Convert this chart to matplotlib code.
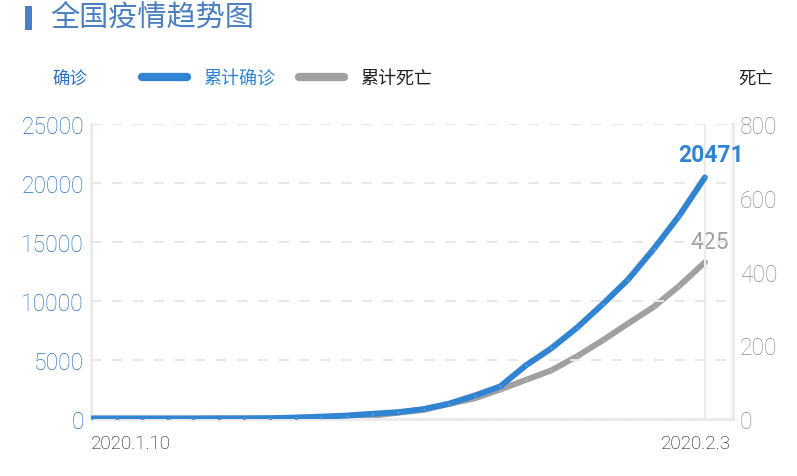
import matplotlib
matplotlib.use("Agg")
import matplotlib.pyplot as plt
import matplotlib.transforms as mtransforms
from matplotlib.lines import Line2D
from matplotlib.patches import Rectangle

# daily national totals, 2020.1.10 - 2020.2.3
dates = ["2020.1.10", "2020.1.11", "2020.1.12", "2020.1.13", "2020.1.14",
         "2020.1.15", "2020.1.16", "2020.1.17", "2020.1.18", "2020.1.19",
         "2020.1.20", "2020.1.21", "2020.1.22", "2020.1.23", "2020.1.24",
         "2020.1.25", "2020.1.26", "2020.1.27", "2020.1.28", "2020.1.29",
         "2020.1.30", "2020.1.31", "2020.2.1", "2020.2.2", "2020.2.3"]
confirmed = [41, 41, 41, 41, 41, 41, 45, 62, 121, 198, 291, 440, 574, 835,
             1297, 1985, 2761, 4537, 5997, 7736, 9720, 11821, 14411, 17238, 20471]
deaths = [1, 1, 1, 1, 1, 2, 2, 2, 3, 3, 6, 9, 17, 25, 41, 56, 80, 106, 132,
          170, 213, 259, 304, 361, 425]

left_ticks = [0, 5000, 10000, 15000, 20000, 25000]
right_ticks = [0, 200, 400, 600, 800]

BLUE = "#3184d1"
GRAY = "#a0a0a0"
TICK_BLUE = "#2a70c2"
AXIS = "#ebebeb"
CJK = ["Noto Sans CJK SC", "DejaVu Sans"]
NUM = ["Roboto", "DejaVu Sans"]

x = list(range(len(dates)))

fig = plt.figure(figsize=(7.97, 4.77), dpi=100)
ax = fig.add_axes([91 / 797, 57 / 477, 642 / 797, 295 / 477])
ax2 = ax.twinx()

ax.plot(x, confirmed, color=BLUE, lw=4.3, solid_capstyle="round",
        solid_joinstyle="round", marker="o", ms=2.2, mfc="#5c9ddb",
        mec=BLUE, mew=0.4, zorder=3)
ax2.plot(x, deaths, color=GRAY, lw=4.3, solid_capstyle="round",
         solid_joinstyle="round", marker="o", ms=2.2, mfc="#b4b4b4",
         mec=GRAY, mew=0.4, zorder=2)

ax.set_xlim(0, 25.1)
ax.set_ylim(0, 25000)
ax2.set_ylim(0, 800)
ax.set_yticks(left_ticks)
ax2.set_yticks(right_ticks)
ax.set_xticks([0, len(dates) - 1])
ax.set_xticklabels([dates[0], dates[-1]])

for a in (ax, ax2):
    for side in ("left", "right", "bottom"):
        a.spines[side].set_color(AXIS)
        a.spines[side].set_linewidth(2.2)
    a.spines["top"].set_visible(False)
ax.set_zorder(ax2.get_zorder() + 1)
ax.patch.set_visible(False)

ax.tick_params(axis="y", length=0, pad=5, labelcolor=TICK_BLUE, labelsize=16.5)
ax.tick_params(axis="x", length=0, pad=11, labelcolor="#111111", labelsize=13.5)
ax2.tick_params(axis="y", length=0, pad=5, labelcolor="#8f8f8f", labelsize=16.5)
for lab in ax.get_yticklabels() + ax2.get_yticklabels() + ax.get_xticklabels():
    lab.set_family(NUM)
    lab.set_fontweight("light")
xl = ax.get_xticklabels()
xl[0].set_ha("left")
xl[1].set_ha("center")
xl[1].set_transform(xl[1].get_transform() +
                    mtransforms.ScaledTranslation(-9 / 100, 0, fig.dpi_scale_trans))

ax.yaxis.grid(True, color="#e8e8e8", lw=1.5, ls=(0, (5, 5)))
ax.xaxis.grid(True, color=AXIS, lw=1.5, ls="-")
ax.set_axisbelow(True)

# end labels
ax.annotate(f"{confirmed[-1]}", xy=(x[-1], confirmed[-1]), xytext=(6, 11),
            textcoords="offset pixels", ha="center", va="bottom",
            color=BLUE, fontsize=16.5, fontweight="bold", family=NUM)
ax2.annotate(f"{deaths[-1]}", xy=(x[-1], deaths[-1]), xytext=(5, 9),
             textcoords="offset pixels", ha="center", va="bottom",
             color=GRAY, fontsize=16.5, family=NUM)

# title
fig.add_artist(Rectangle((25 / 797, 1 - 31 / 477), 7 / 797, 24 / 477,
                         transform=fig.transFigure, color="#4a7fc8", lw=0))
fig.text(50 / 797, 1 - 18 / 477, "全国疫情趋势图", family=CJK, fontsize=21,
         color="#4a7fc0", va="center", ha="left")

# axis names
fig.text(52 / 797, 1 - 80 / 477, "确诊", family=CJK, fontsize=12.5,
         color=TICK_BLUE, va="center", ha="left")
fig.text(738 / 797, 1 - 80 / 477, "死亡", family=CJK, fontsize=12.5,
         color="#222222", va="center", ha="left")

handles = [Line2D([], [], color=BLUE, lw=6, solid_capstyle="round"),
           Line2D([], [], color=GRAY, lw=6, solid_capstyle="round")]
leg = fig.legend(handles, ["累计确诊", "累计死亡"], loc="center left",
                 bbox_to_anchor=(142 / 797, 1 - 79 / 477), ncol=2,
                 frameon=False, borderpad=0, borderaxespad=0,
                 handlelength=2.5, handletextpad=0.9, columnspacing=1.3,
                 prop={"family": CJK, "size": 13})
leg.get_texts()[0].set_color(BLUE)
leg.get_texts()[1].set_color("#222222")

fig.savefig("out.png", dpi=100)
